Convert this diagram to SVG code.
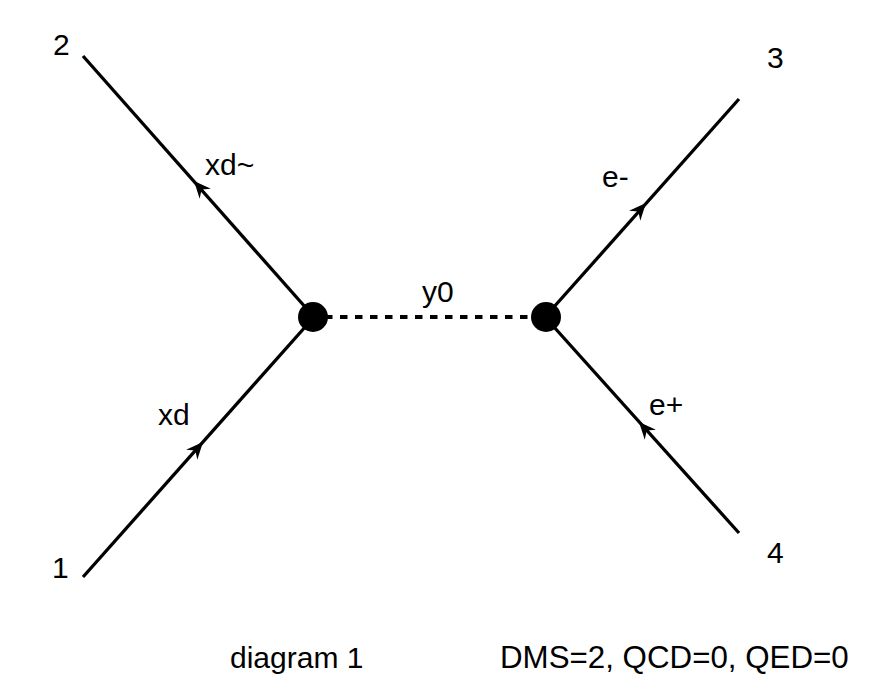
<svg xmlns="http://www.w3.org/2000/svg" width="884" height="696" viewBox="0 0 884 696">
<style>
.ln{stroke:#000;stroke-width:3.3;fill:none;stroke-linecap:butt}
.dash{stroke:#000;stroke-width:4;fill:none;stroke-dasharray:7.5 7.5}
.t{font-family:"Liberation Sans",Arial,sans-serif;font-size:30px;fill:#000}
.v{fill:#000}
</style>
<defs>
<path id="ah" d="M0,0 L-17,-7.5 L-11.5,0 L-17,7.5 Z" fill="#000"/>
</defs>
<rect width="884" height="696" fill="#fff"/>
<g id="connectors">
<line class="ln" x1="83" y1="577" x2="314" y2="317"/>
<line class="ln" x1="83" y1="56" x2="314" y2="317"/>
<line class="ln" x1="545" y1="317" x2="739" y2="99"/>
<line class="ln" x1="739" y1="533" x2="545" y2="317"/>
<line class="dash" x1="325" y1="317" x2="535" y2="317"/>
<use href="#ah" transform="translate(203,442) rotate(-48.4)"/>
<use href="#ah" transform="translate(194,181) rotate(-131.5)"/>
<use href="#ah" transform="translate(646,203) rotate(-48.3)"/>
<use href="#ah" transform="translate(639,422) rotate(-131.9)"/>
<text class="t" x="158" y="425">xd</text>
<text class="t" x="205" y="175">xd~</text>
<text class="t" x="602" y="187">e-</text>
<text class="t" x="649" y="415">e+</text>
<text class="t" x="422" y="302">y0</text>
</g>
<g id="v1"><circle class="v" cx="313" cy="317" r="15"/></g>
<g id="v2"><circle class="v" cx="546" cy="317" r="15"/></g>
<g id="n1"><text class="t" x="52" y="578">1</text></g>
<g id="n2"><text class="t" x="53" y="55">2</text></g>
<g id="n3"><text class="t" x="767" y="68">3</text></g>
<g id="n4"><text class="t" x="767" y="563">4</text></g>
<g id="caption">
<text class="t" x="230" y="668">diagram 1</text>
<text class="t" x="500" y="668" style="font-size:31.3px">DMS=2, QCD=0, QED=0</text>
</g>
</svg>
